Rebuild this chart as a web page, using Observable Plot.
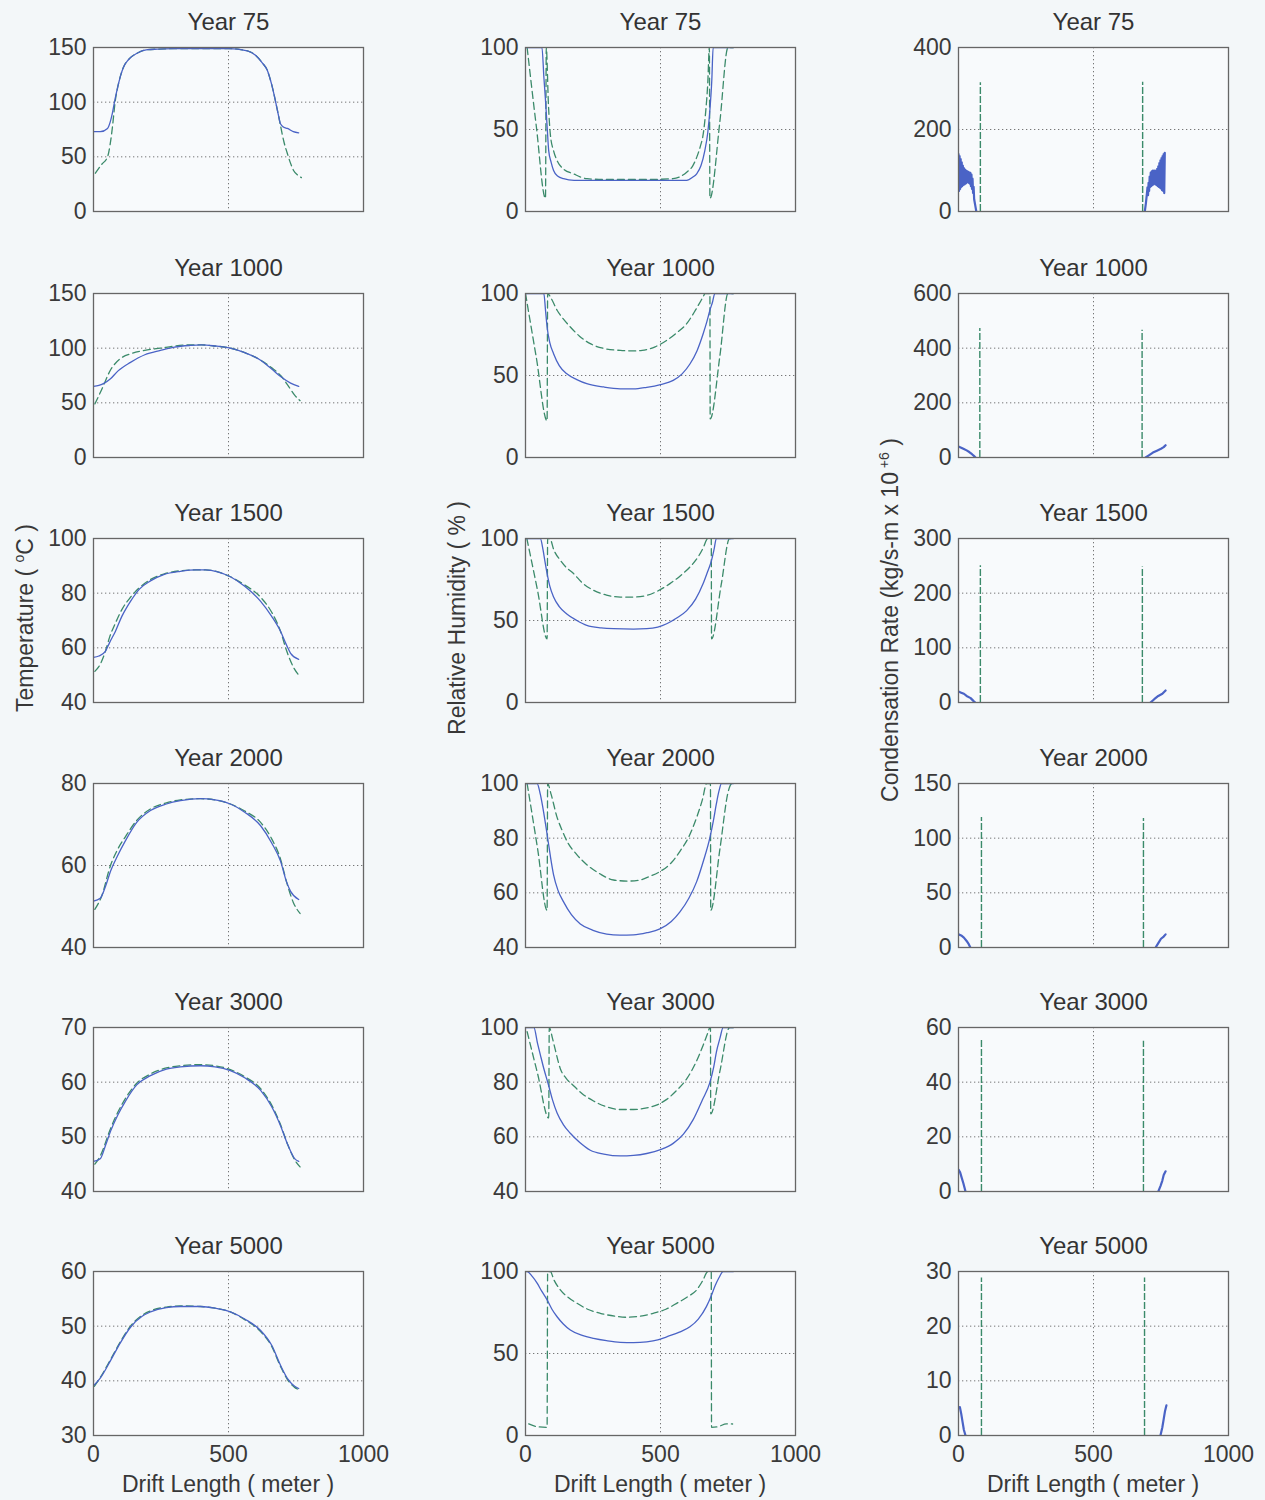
<!DOCTYPE html>
<html><head><meta charset="utf-8">
<script src="https://cdn.jsdelivr.net/npm/d3@7"></script>
<script src="https://cdn.jsdelivr.net/npm/@observablehq/plot@0.6"></script>
<style>
body{margin:0;background:#f3f7f9;font-family:"Liberation Sans",Arial,sans-serif;}
#root{position:relative;width:1265px;height:1500px;overflow:hidden;background:#f3f7f9;}
.panel{position:absolute;}
.panel svg{max-width:none !important;}
.lab{position:absolute;white-space:nowrap;font-size:23px;color:#383838;transform:translate(-50%,-50%);}
.rot{transform:translate(-50%,-50%) rotate(-90deg);}
.lab sup{font-size:14px;}
</style></head><body><div id="root"></div>
<script>
// ---------- data ----------
const years = ["Year 75","Year 1000","Year 1500","Year 2000","Year 3000","Year 5000"];
const xTicks = [0, 500, 1000];

const tempDomains = [[0,150],[0,150],[40,100],[40,80],[40,70],[30,60]];
const tempTicks = [[0,50,100,150],[0,50,100,150],[40,60,80,100],[40,60,80],[40,50,60,70],[30,40,50,60]];
const rhDomains = [[0,100],[0,100],[0,100],[40,100],[40,100],[0,100]];
const rhTicks = [[0,50,100],[0,50,100],[0,50,100],[40,60,80,100],[40,60,80,100],[0,50,100]];
const condDomains = [[0,400],[0,600],[0,300],[0,150],[0,60],[0,30]];
const condTicks = [[0,200,400],[0,200,400,600],[0,100,200,300],[0,50,100,150],[0,20,40,60],[0,10,20,30]];

// Temperature (solid / dashed), [distance m, °C]
const temp75Solid = [[0,73],[25,73],[52,76],[62,82],[70,90],[80,103],[89,113],[100,124],[111,132],[130,139],[163,145],[200,148],[237,148.5],[300,149],[400,149],[500,149],[570,147],[600,143],[625,136],[644,129],[660,116],[674,101],[685,88],[693,80],[705,77],[718,76],[740,73],[760,72]];
const temp75Dashed = [[7,35],[30,43],[52,50],[62,62],[70,77],[80,100],[89,113],[100,124],[111,132],[130,139],[163,145],[200,148],[237,148.5],[300,149],[400,149],[500,149],[570,147],[600,143],[625,136],[644,129],[660,116],[674,101],[685,88],[693,78],[705,64],[718,53],[730,44],[741,37.5],[758,33],[770,31]];
const temp1000Solid = [[0,65],[20,66],[40,68],[63,72],[90,79],[137,87],[190,94],[248,98],[300,101],[359,102.5],[400,103],[450,102],[507,100],[560,96],[619,89],[660,81],[693,74],[730,68],[760,65]];
const temp1000Dashed = [[5,49],[30,62],[63,80],[100,90.5],[140,95],[190,98],[248,100],[300,102],[359,103],[400,103],[450,102],[507,100],[560,96],[619,89],[660,82],[693,75],[720,66],[745,57],[765,52]];
const temp1500Solid = [[0,56.5],[20,57],[44,58.7],[60,62],[81,66],[105,71.5],[137,77],[170,81.5],[211,84.5],[260,86.8],[322,88],[380,88.5],[415,88.5],[460,87.8],[507,86],[560,82.5],[619,77],[660,71.5],[693,66],[715,61],[730,58],[760,55.8]];
const temp1500Dashed = [[5,51.4],[25,54],[44,58.7],[60,64],[81,69],[105,74],[137,78.5],[170,82],[211,85],[260,87],[322,88.2],[380,88.5],[415,88.5],[460,87.8],[507,86],[560,83],[619,78.5],[660,73],[693,66],[715,59],[740,53],[765,49.5]];
const temp2000Solid = [[0,51.3],[25,52],[45,55],[63,58.6],[90,62.5],[118,66],[160,70.5],[211,73.4],[270,75],[322,75.8],[396,76.3],[450,76],[507,75],[560,73],[619,69.7],[660,65.5],[693,61],[715,56],[730,53.7],[760,51.7]];
const temp2000Dashed = [[5,49.3],[30,52.5],[63,60],[90,64],[118,67],[160,71],[211,73.8],[270,75.3],[322,76],[396,76.3],[450,76],[507,75],[560,73.3],[619,70.5],[660,66.5],[693,61.5],[715,56],[740,51],[765,48.3]];
const temp3000Solid = [[0,45.5],[25,46],[45,48.5],[63,51],[90,54],[118,56.5],[160,59.5],[211,61.2],[270,62.4],[322,62.8],[396,63],[450,62.8],[507,62.1],[560,60.8],[619,58.5],[660,55.5],[693,52],[720,48.5],[745,46],[760,45.5]];
const temp3000Dashed = [[5,45],[25,46.5],[63,51.5],[90,54.5],[118,57],[160,59.8],[211,61.5],[270,62.6],[322,63],[396,63.2],[450,63],[507,62.3],[560,61],[619,58.8],[660,55.8],[693,52.2],[720,48.5],[745,45.8],[765,44.5]];
const temp5000Solid = [[0,39.1],[25,40.5],[63,43.7],[100,47],[137,49.8],[180,51.8],[211,52.6],[270,53.4],[322,53.6],[396,53.6],[450,53.3],[507,52.6],[560,51.3],[619,49.2],[660,46.5],[693,42.8],[720,40.3],[745,39],[760,38.6]];
const temp5000Dashed = [[3,39],[25,40.6],[63,43.9],[100,47.2],[137,50],[180,52],[211,52.8],[270,53.5],[322,53.7],[396,53.6],[450,53.3],[507,52.6],[560,51.2],[619,49],[660,46.3],[693,42.6],[720,40.1],[745,38.8],[765,38.3]];

// Relative humidity (solid / dashed), [distance m, %]
const rh75Solid = [[0,100],[61,100],[68,82],[74,68],[80,52],[86,37],[95,30],[104,25],[120,21.5],[141,20],[180,19],[300,19],[400,19],[500,19],[597,19],[620,21],[634,23],[650,28],[664,37],[675,48],[683,62],[690,80],[695,100],[770,100]];
const rh75Dashed = [[6,100],[40,52],[74,8],[77,100],[85,65],[92,47],[104,37],[117,31],[140,26],[177,23],[228,20],[300,19.5],[450,19.5],[546,20],[597,24],[620,28],[634,33],[648,40],[658,47],[668,62],[675,78],[681,100],[683,8],[720,55],[750,100],[770,100]];
const rh1000Solid = [[0,100],[68,100],[74,90],[80,79.6],[90,70],[104,63.3],[125,56],[153,51],[190,47.5],[227,45],[290,43],[351,41.9],[400,41.8],[449,42.8],[500,44.5],[547,47],[580,51],[609,57],[635,65],[658,75.5],[672,83],[683,89.8],[693,95],[701,100],[770,100]];
const rh1000Dashed = [[0,100],[40,61],[80,22.4],[82,100],[95,97],[117,89.8],[140,84.5],[166,79.6],[200,74],[240,69.4],[290,66.5],[351,65.3],[400,65],[432,65.3],[480,67.5],[523,71.4],[560,76],[597,81.6],[630,90],[658,98],[665,100],[683,100],[684,23.5],[720,62],[750,100],[770,100]];
const rh1500Solid = [[0,100],[55,100],[65,93],[72,86],[80,78.6],[90,71],[104,64.3],[125,58.5],[153,54],[190,50],[227,47],[280,45.5],[326,45],[400,44.8],[449,45],[490,46],[523,48],[560,51.5],[597,56],[630,63],[658,72.5],[675,80],[689,86.7],[698,93],[707,100],[770,100]];
const rh1500Dashed = [[5,100],[45,68],[80,38.8],[82,100],[90,100],[105,93],[129,86.7],[150,82.5],[178,78.6],[210,73],[252,68.4],[300,65.5],[351,64.3],[400,64.3],[449,65.3],[490,68],[535,72.5],[575,77.5],[609,82.6],[640,89],[660,95],[670,99],[675,100],[688,100],[689,38.8],[725,72],[756,100],[770,100]];
const rh2000Solid = [[0,100],[43,100],[55,96],[68,89],[80,81.4],[92,73.5],[104,66.6],[120,61],[141,56.7],[170,52],[203,48.6],[250,46.3],[301,44.9],[350,44.5],[400,44.6],[450,45.4],[498,46.8],[540,49.5],[572,53],[605,58],[634,64.1],[660,72],[683,80.2],[697,87],[707,92.6],[716,97],[726,100],[770,100]];
const rh2000Dashed = [[6,100],[45,76],[80,53.6],[82,100],[95,96],[117,87.6],[135,83],[153,79],[190,74],[227,70.3],[275,67],[326,64.7],[380,64.3],[424,64.7],[460,66],[498,67.8],[540,71],[572,75.2],[605,80.5],[634,87.6],[655,94],[671,100],[685,100],[686,53.6],[720,76],[752,97.5],[765,100],[770,100]];
const rh3000Solid = [[0,100],[31,100],[45,94],[55,90],[68,84.9],[86,78.7],[100,73.5],[117,68.7],[140,64.5],[166,61.3],[200,58],[240,55.1],[290,53.7],[351,53],[400,53.2],[449,53.9],[500,55.3],[547,57.6],[585,61],[621,66.3],[655,73.5],[683,79.9],[697,85.5],[707,91],[720,96],[732,100],[770,100]];
const rh3000Dashed = [[6,98.5],[45,83],[86,66.9],[88,100],[100,96],[110,92],[129,84.9],[150,81.5],[178,78.7],[210,75.8],[252,73.1],[300,71],[351,70],[400,70],[449,70.6],[490,71.8],[523,73.7],[560,77],[597,81.2],[630,87],[658,93.5],[675,98],[683,100],[685,100],[686,68.4],[720,84],[756,100],[770,100]];
const rh5000Solid = [[0,100],[6,100],[25,97],[43,92.9],[60,88],[80,82.7],[98,77],[117,72.4],[140,68],[166,64.3],[210,61],[252,59.2],[300,57.8],[351,56.8],[400,56.6],[449,57.1],[490,58.3],[523,60.2],[570,63],[609,66.3],[640,71],[670,78.6],[690,86],[701,90.8],[716,96],[732,100],[770,100]];
const rh5000Dashed = [[12,7.1],[40,5.5],[80,5],[82,100],[92,100],[105,95],[129,88.8],[160,84],[191,80.6],[230,77],[277,74.5],[330,72.8],[375,72.1],[420,72.6],[473,74.5],[520,77],[560,80.6],[600,84.5],[634,88.8],[655,94],[676,100],[688,100],[689,5],[715,5.5],[744,7.1],[767,7]];

// Condensation rate: blue solid segments near both drift ends, [distance m, rate]
const cond75Left = [[0,140],[2,50],[4,135],[6,55],[8,128],[10,60],[12,120],[14,62],[16,112],[18,65],[20,106],[22,66],[24,102],[26,68],[28,100],[30,70],[32,98],[34,72],[36,97],[38,70],[40,95],[42,68],[44,94],[46,62],[48,90],[50,55],[52,80],[54,45],[56,60],[58,30],[62,15],[66,0]];
const cond75Right = [[690,0],[694,20],[698,45],[700,59],[702,40],[704,70],[706,50],[708,85],[710,60],[712,95],[714,62],[716,98],[718,64],[720,100],[722,66],[724,99],[726,68],[728,100],[730,66],[732,96],[734,64],[736,104],[738,62],[740,110],[742,60],[744,118],[746,58],[748,125],[750,56],[752,130],[754,52],[756,135],[758,50],[760,140],[762,45],[764,143]];
const cond1000Left = [[0,40],[10,36],[20,31],[30,26],[40,20],[50,12],[57,6],[63,0]];
const cond1000Right = [[693,0],[705,8],[720,18],[735,25],[750,32],[760,38],[767,45]];
const cond1500Left = [[0,20],[10,18],[20,16],[30,12],[45,8],[55,3],[62,0]];
const cond1500Right = [[711,0],[725,6],[740,12],[755,16],[767,22]];
const cond2000Left = [[0,12],[10,11],[20,9],[30,6],[38,3],[44,0]];
const cond2000Right = [[730,0],[740,4],[750,8],[760,10],[767,12]];
const cond3000Left = [[0,8],[6,7],[12,5],[18,3],[26,0]];
const cond3000Right = [[740,0],[748,2],[755,4],[760,6],[767,7.4]];
const cond5000Left = [[5,5.2],[10,4],[15,2.5],[20,1],[26,0]];
const cond5000Right = [[748,0],[755,1.5],[760,3],[765,4.5],[770,5.5]];
// green dashed spikes: [distance m, peak rate]
const cond75Spikes = [[81,314],[682,315]];
const cond1000Spikes = [[79,472],[680,466]];
const cond1500Spikes = [[81,250],[681,248]];
const cond2000Spikes = [[85,119],[685,118]];
const cond3000Spikes = [[85,56],[685,55]];
const cond5000Spikes = [[85,28.8],[689,28.8]];

const tempSolid = [temp75Solid,temp1000Solid,temp1500Solid,temp2000Solid,temp3000Solid,temp5000Solid];
const tempDashed = [temp75Dashed,temp1000Dashed,temp1500Dashed,temp2000Dashed,temp3000Dashed,temp5000Dashed];
const rhSolid = [rh75Solid,rh1000Solid,rh1500Solid,rh2000Solid,rh3000Solid,rh5000Solid];
const rhDashed = [rh75Dashed,rh1000Dashed,rh1500Dashed,rh2000Dashed,rh3000Dashed,rh5000Dashed];
const condLeft = [cond75Left,cond1000Left,cond1500Left,cond2000Left,cond3000Left,cond5000Left];
const condRight = [cond75Right,cond1000Right,cond1500Right,cond2000Right,cond3000Right,cond5000Right];
const condSpikes = [cond75Spikes,cond1000Spikes,cond1500Spikes,cond2000Spikes,cond3000Spikes,cond5000Spikes];

// ---------- layout ----------
const colLeft = [93, 525, 958];
const rowTop = [47, 293, 538, 783, 1027, 1271];
const FW = 270, FH = 164, ML = 70, MR = 45, MT = 40, MB = 55;
const BLUE = "#4a63c6", GREEN = "#3b8a6a";
const root = document.getElementById("root");

function panel(col, row, domain, ticks, lines, rules) {
  const showX = row === 5;
  const marks = [
    Plot.frame({fill: "#f8fafc", stroke: null}),
    Plot.ruleY(ticks, {stroke: "#555", strokeOpacity: 0.8, strokeDasharray: "1.3,2.7"}),
    Plot.ruleX([500], {stroke: "#555", strokeOpacity: 0.8, strokeDasharray: "1.3,2.7"})
  ];
  for (const l of lines) {
    marks.push(Plot.line(l.data, {x: d => d[0], y: d => d[1], stroke: l.color, strokeWidth: l.width || 1.3,
      strokeDasharray: l.dash || null, clip: true, curve: l.curve || "linear"}));
  }
  if (rules) {
    marks.push(Plot.ruleX(rules, {x: d => d[0], y1: domain[0], y2: d => d[1], stroke: GREEN,
      strokeWidth: 1.4, strokeDasharray: "7,2"}));
  }
  marks.push(Plot.frame({stroke: "#666", strokeWidth: 1.3}));
  marks.push(Plot.text([years[row]], {text: d => d, frameAnchor: "top", dy: -18, lineAnchor: "bottom",
    fontSize: 24, fill: "#333"}));
  const W = ML + FW + MR, H = MT + FH + MB;
  const svg = Plot.plot({
    width: W, height: H,
    marginLeft: ML, marginRight: MR, marginTop: MT, marginBottom: MB,
    x: {type: "linear", domain: [0, 1000], ticks: xTicks, tickFormat: d => String(d), tickSize: 0, tickPadding: 10,
      label: null, axis: showX ? "bottom" : null},
    y: {type: "linear", domain, ticks, tickFormat: d => String(d), tickSize: 0, tickPadding: 7, label: null},
    style: {background: "transparent", overflow: "visible", fontFamily: "'Liberation Sans', Arial, sans-serif",
      fontSize: "23px", color: "#3a3a3a", maxWidth: "none"},
    marks
  });
  const div = document.createElement("div");
  div.className = "panel";
  div.style.left = (colLeft[col] - ML) + "px";
  div.style.top = (rowTop[row] - MT) + "px";
  div.style.width = W + "px";
  div.style.height = H + "px";
  div.appendChild(svg);
  root.appendChild(div);
}

for (let r = 0; r < 6; r++) {
  panel(0, r, tempDomains[r], tempTicks[r], [
    {data: tempDashed[r], color: GREEN, dash: "7,4", curve: "monotone-x"},
    {data: tempSolid[r], color: BLUE, curve: "monotone-x"}
  ]);
  panel(1, r, rhDomains[r], rhTicks[r], [
    {data: rhDashed[r], color: GREEN, dash: "7,4", curve: "monotone-x"},
    {data: rhSolid[r], color: BLUE, curve: "monotone-x"}
  ]);
  panel(2, r, condDomains[r], condTicks[r], [
    {data: condLeft[r], color: BLUE, width: 2.2},
    {data: condRight[r], color: BLUE, width: 2.2}
  ], condSpikes[r]);
}

function label(html, x, y, rot) {
  const d = document.createElement("div");
  d.className = "lab" + (rot ? " rot" : "");
  d.style.left = x + "px"; d.style.top = y + "px";
  d.innerHTML = html;
  root.appendChild(d);
}
label("Temperature ( <sup>o</sup>C )", 25, 618, true);
label("Relative Humidity ( % )", 457, 618, true);
label("Condensation Rate (kg/s-m x 10<sup> +6</sup> )", 890, 620, true);
label("Drift Length ( meter )", 228, 1484, false);
label("Drift Length ( meter )", 660, 1484, false);
label("Drift Length ( meter )", 1093, 1484, false);
</script></body></html>
